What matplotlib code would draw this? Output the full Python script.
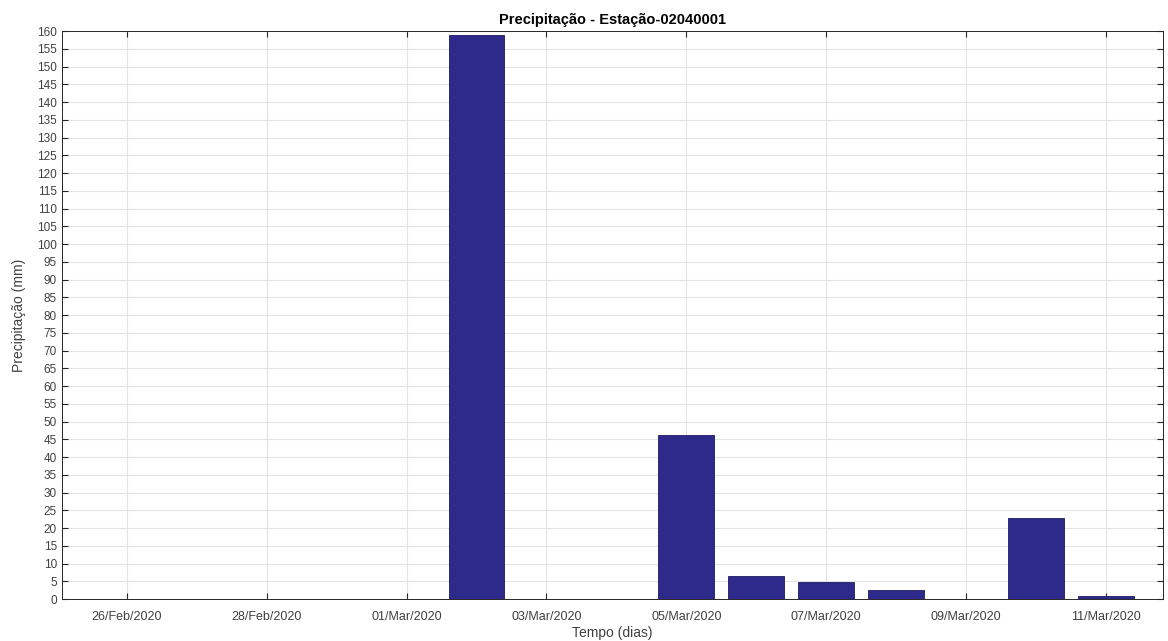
import numpy as np
import pandas as pd
import matplotlib
matplotlib.use('Agg')
import matplotlib.pyplot as plt
import matplotlib.dates as mdates

# Dados diarios de precipitacao (25/Fev a 11/Mar de 2020)
datas = pd.date_range('2020-02-25', '2020-03-11', freq='D')
precip = [0, 0, 0, 0, 0, 0, 159, 0, 0, 46.2, 6.6, 4.7, 2.5, 0, 22.7, 0.9]
tick_datas = pd.to_datetime(['2020-02-26', '2020-02-28', '2020-03-01', '2020-03-03',
                             '2020-03-05', '2020-03-07', '2020-03-09', '2020-03-11'])

plt.rcParams['font.family'] = ['Liberation Sans', 'DejaVu Sans']

fig = plt.figure(figsize=(11.68, 6.41), dpi=100)
ax = fig.add_axes([0.053, 0.0655, 0.9427, 0.8861])

ax.bar(datas, precip, width=0.8, color='#2e2a8c', edgecolor='#1c1960', linewidth=0.6, zorder=3)

ax.set_ylim(0, 160)
ax.set_yticks(np.arange(0, 161, 5))
ax.set_xlim(pd.Timestamp('2020-02-26') - pd.Timedelta(hours=22.3),
            pd.Timestamp('2020-03-11') + pd.Timedelta(hours=19.6))
ax.set_xticks(tick_datas)
ax.xaxis.set_major_formatter(mdates.DateFormatter('%d/%b/%Y'))

ax.grid(True, color='#e3e3e3', linewidth=0.8, zorder=0)
ax.tick_params(direction='in', length=4, top=True, right=True, labelsize=8.5,
               colors='#262626', labelcolor='#404040')
ax.tick_params(axis='x', pad=8.5, labelsize=9)
for s in ax.spines.values():
    s.set_color('#262626')
    s.set_linewidth(0.7)

ax.set_title('Precipitação - Estação-02040001', fontsize=10.5, fontweight='bold', pad=5)
ax.set_xlabel('Tempo (dias)', fontsize=10, color='#404040', labelpad=2)
ax.set_ylabel('Precipitação (mm)', fontsize=10, color='#404040', labelpad=8)

plt.savefig('out.png', dpi=100)
